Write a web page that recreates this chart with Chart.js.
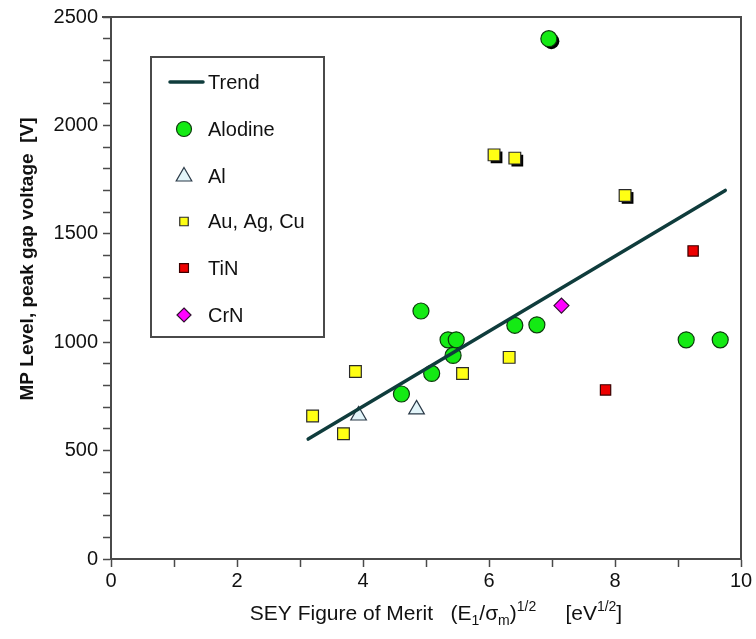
<!DOCTYPE html>
<html>
<head>
<meta charset="utf-8">
<script src="https://cdn.jsdelivr.net/npm/chart.js@4/dist/chart.umd.min.js"></script>
<style>
html,body{margin:0;padding:0;background:#fff;}
#wrap{width:756px;height:639px;position:relative;}
</style>
</head>
<body>
<div id="wrap"><canvas id="c" width="756" height="639"></canvas></div>
<script>
// ---- data ----
const alodineX = [6.95, 4.92, 5.35, 5.48, 5.43, 6.41, 6.76, 5.09, 4.61, 9.13, 9.67];
const alodineY = [2400, 1144, 1011, 1011, 939, 1078, 1080, 856, 761, 1011, 1011];
const alX = [3.93, 4.85];
const alY = [662, 690];
const auX = [3.88, 3.20, 3.69, 5.58, 6.32, 6.08, 6.41, 8.16];
const auY = [865, 660, 578, 856, 930, 1864, 1849, 1677];
const tinX = [7.85, 9.24];
const tinY = [780, 1421];
const crnX = [7.15];
const crnY = [1169];
const trendX = [3.13, 9.75];
const trendY = [553, 1700];
const xTicks = [0, 2, 4, 6, 8, 10];
const yTicks = [0, 500, 1000, 1500, 2000, 2500];
const yTitle = 'MP Level, peak gap voltage  [V]';

const pts = (xs, ys) => xs.map((x, i) => ({x: x, y: ys[i]}));
const FONT = "'Liberation Sans', Arial, sans-serif";

const styles = {
  alodine: {shape: 'circle', fill: '#14ea14', stroke: '#0c3a0c', r: 8},
  al: {shape: 'triangle', fill: '#e3f5fa', stroke: '#2b3a48', r: 9},
  au: {shape: 'rect', fill: '#ffff14', stroke: '#2a2a2a', r: 8.3},
  tin: {shape: 'rect', fill: '#ee0000', stroke: '#3a0000', r: 7.3},
  crn: {shape: 'rectRot', fill: '#ff00ff', stroke: '#301030', r: 7.5}
};

// points drawn with a drop shadow in the reference (dataset index -> point indices)
const shadowed = {1: [0], 3: [5, 6, 7]};

function drawMarker(ctx, shape, x, y, r, fill, stroke, lw) {
  ctx.save();
  ctx.beginPath();
  if (shape === 'circle') {
    ctx.arc(x, y, r, 0, Math.PI * 2);
  } else if (shape === 'triangle') {
    ctx.moveTo(x, y - r);
    ctx.lineTo(x + r * 0.866, y + r * 0.5);
    ctx.lineTo(x - r * 0.866, y + r * 0.5);
    ctx.closePath();
  } else if (shape === 'rect') {
    const s = r * Math.SQRT1_2;
    ctx.rect(x - s, y - s, 2 * s, 2 * s);
  } else if (shape === 'rectRot') {
    ctx.moveTo(x, y - r); ctx.lineTo(x + r, y); ctx.lineTo(x, y + r); ctx.lineTo(x - r, y); ctx.closePath();
  }
  ctx.fillStyle = fill; ctx.fill();
  if (stroke) { ctx.lineWidth = lw || 1.2; ctx.strokeStyle = stroke; ctx.stroke(); }
  ctx.restore();
}

const shadowPlugin = {
  id: 'shadows',
  beforeDatasetDraw(chart, args) {
    const idxs = shadowed[args.index];
    if (!idxs) return;
    const meta = chart.getDatasetMeta(args.index);
    const ds = chart.data.datasets[args.index];
    const ctx = chart.ctx;
    idxs.forEach(i => {
      const el = meta.data[i];
      drawMarker(ctx, ds.pointStyle, el.x + 2.5, el.y + 2.5, ds.pointRadius, '#000', null);
    });
  }
};

const framePlugin = {
  id: 'frame',
  afterDraw(chart) {
    const ctx = chart.ctx, a = chart.chartArea;
    ctx.save();
    ctx.strokeStyle = '#4a4a4a';
    ctx.lineWidth = 2;
    ctx.beginPath();
    ctx.moveTo(a.left - 9, a.top); ctx.lineTo(a.right, a.top); ctx.lineTo(a.right, a.bottom);
    ctx.stroke();
    ctx.restore();
  }
};

const legendItems = [
  {label: 'Trend', line: true},
  {label: 'Alodine', st: {shape: 'circle', fill: '#14ea14', stroke: '#0c3a0c', r: 7.5}},
  {label: 'Al', st: {shape: 'triangle', fill: '#e3f5fa', stroke: '#2b3a48', r: 9}},
  {label: 'Au, Ag, Cu', st: {shape: 'rect', fill: '#ffff14', stroke: '#2a2a2a', r: 6}},
  {label: 'TiN', st: {shape: 'rect', fill: '#ee0000', stroke: '#3a0000', r: 6.3}},
  {label: 'CrN', st: {shape: 'rectRot', fill: '#ff00ff', stroke: '#301030', r: 7}}
];

const legendPlugin = {
  id: 'customLegend',
  afterDraw(chart) {
    const ctx = chart.ctx;
    ctx.save();
    ctx.fillStyle = '#fff';
    ctx.fillRect(151, 57, 173, 280);
    ctx.strokeStyle = '#4a4a4a';
    ctx.lineWidth = 2;
    ctx.strokeRect(151, 57, 173, 280);
    const rows = [82, 129, 176.5, 221.5, 268, 315];
    ctx.font = '20px ' + FONT;
    ctx.textBaseline = 'middle';
    legendItems.forEach((it, i) => {
      const y = rows[i];
      if (it.line) {
        ctx.strokeStyle = '#0f3c3c'; ctx.lineWidth = 3.5; ctx.lineCap = 'round';
        ctx.beginPath(); ctx.moveTo(170, y); ctx.lineTo(203, y); ctx.stroke();
      } else {
        drawMarker(ctx, it.st.shape, 184, y, it.st.r, it.st.fill, it.st.stroke, 1.2);
      }
      ctx.fillStyle = '#111';
      ctx.fillText(it.label, 208, y + 1);
    });
    ctx.restore();
  }
};

const titlesPlugin = {
  id: 'axisTitles',
  afterDraw(chart) {
    const ctx = chart.ctx;
    const a = chart.chartArea;
    // y title
    ctx.save();
    ctx.translate(28, 259);
    ctx.rotate(-Math.PI / 2);
    ctx.font = 'bold 19px ' + FONT;
    ctx.fillStyle = '#111';
    ctx.textAlign = 'center';
    ctx.textBaseline = 'middle';
    ctx.fillText(yTitle, 0, 0);
    ctx.restore();
    // x title with sub/superscripts
    const segs = [
      {t: 'SEY Figure of Merit   (E', f: 21, dy: 0},
      {t: '1', f: 14, dy: 5},
      {t: '/\u03C3', f: 21, dy: 0},
      {t: 'm', f: 14, dy: 5},
      {t: ')', f: 21, dy: 0},
      {t: '1/2', f: 14, dy: -9},
      {t: '     [eV', f: 21, dy: 0},
      {t: '1/2', f: 14, dy: -9},
      {t: ']', f: 21, dy: 0}
    ];
    ctx.save();
    ctx.fillStyle = '#111';
    ctx.textBaseline = 'alphabetic';
    ctx.textAlign = 'left';
    let total = 0;
    segs.forEach(s => { ctx.font = s.f + 'px ' + FONT; total += ctx.measureText(s.t).width; });
    let x = (a.left + a.right) / 2 + 10 - total / 2;
    const base = 620;
    segs.forEach(s => {
      ctx.font = s.f + 'px ' + FONT;
      ctx.fillText(s.t, x, base + s.dy);
      x += ctx.measureText(s.t).width;
    });
    ctx.restore();
  }
};

const ds = (label, xs, ys, st) => ({
  label: label,
  data: pts(xs, ys),
  pointStyle: st.shape,
  pointRadius: st.r,
  pointHoverRadius: st.r,
  pointBackgroundColor: st.fill,
  pointBorderColor: st.stroke,
  pointBorderWidth: 1.2,
  showLine: false
});

new Chart(document.getElementById('c'), {
  type: 'scatter',
  data: {
    datasets: [
      {
        label: 'Trend', data: pts(trendX, trendY), showLine: true,
        borderColor: '#0f3c3c', borderWidth: 3.5, pointRadius: 0, pointHoverRadius: 0,
        borderCapStyle: 'round', fill: false
      },
      ds('Alodine', alodineX, alodineY, styles.alodine),
      ds('Al', alX, alY, styles.al),
      ds('Au, Ag, Cu', auX, auY, styles.au),
      ds('TiN', tinX, tinY, styles.tin),
      ds('CrN', crnX, crnY, styles.crn)
    ]
  },
  options: {
    responsive: false,
    animation: false,
    layout: {padding: {top: 15, right: 15, left: 0, bottom: 0}},
    plugins: {legend: {display: false}, tooltip: {enabled: false}},
    scales: {
      x: {
        type: 'linear', min: 0, max: 10,
        afterFit(s) { s.height = 80; },
        afterBuildTicks(s) { s.ticks = Array.from({length: 11}, (_, i) => ({value: i})); },
        grid: {drawOnChartArea: false, drawTicks: true, tickLength: 8, tickColor: '#4a4a4a', tickWidth: 1.5},
        border: {display: true, color: '#4a4a4a', width: 2},
        ticks: {
          autoSkip: false, maxRotation: 0, padding: 2, color: '#111',
          font: {family: FONT, size: 20},
          callback: (v) => xTicks.includes(v) ? String(v) : ''
        }
      },
      y: {
        type: 'linear', min: 0, max: 2500,
        afterFit(s) { s.width = 111; },
        afterBuildTicks(s) { s.ticks = Array.from({length: 26}, (_, i) => ({value: i * 100})); },
        grid: {drawOnChartArea: false, drawTicks: true, tickLength: 8, tickColor: '#4a4a4a', tickWidth: 1.5},
        border: {display: true, color: '#4a4a4a', width: 2},
        ticks: {
          autoSkip: false, padding: 5, color: '#111',
          font: {family: FONT, size: 20},
          callback: (v) => yTicks.includes(v) ? String(v) : ''
        },
        title: {display: false}
      }
    }
  },
  plugins: [shadowPlugin, framePlugin, legendPlugin, titlesPlugin]
});
</script>
</body>
</html>
